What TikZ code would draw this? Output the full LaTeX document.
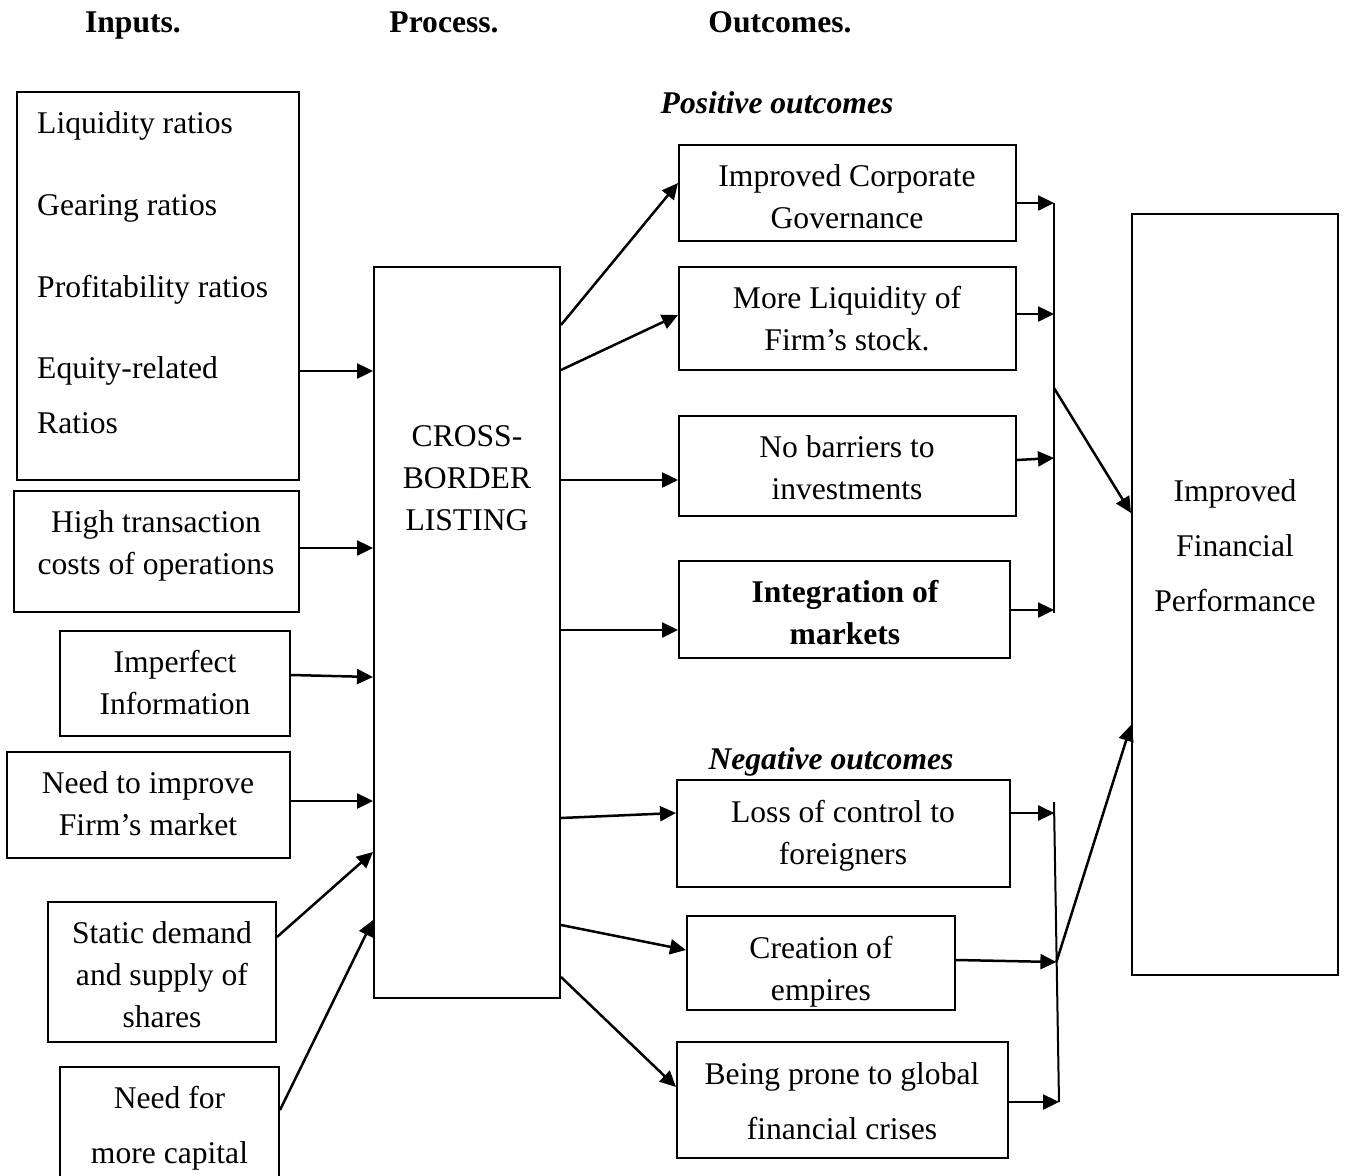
\documentclass[tikz,border=0pt]{standalone}
\usepackage{fontspec}
\setmainfont{Liberation Serif}
\usetikzlibrary{arrows.meta}
\begin{document}
\begin{tikzpicture}[x=1pt,y=-1pt,
  box/.style={draw,line width=2pt,inner sep=0pt,rectangle},
  txt/.style={inner sep=0pt,align=center,font=\fontsize{31.6}{42}\selectfont,
    execute at begin node=\strut,execute at end node=\strut},
  ltxt/.style={txt,anchor=west},
  hd/.style={txt,font=\fontsize{31.6}{42}\selectfont\bfseries},
  hdi/.style={txt,font=\fontsize{31.6}{42}\selectfont\bfseries\itshape},
  arr/.style={line width=2.5pt,-{Triangle[length=16pt,width=15pt]}},
  coll/.style={line width=2pt}]
\useasboundingbox (0,0) rectangle (1345,1176);
\fill[white] (0,0) rectangle (1345,1176);

% headers
\node[hd] (h1) at (133,24) {Inputs.};
\node[hd] (h2) at (444,24) {Process.};
\node[hd] (h3) at (780,24) {Outcomes.};
\node[hdi] (hp) at (777,105) {Positive outcomes};
\node[hdi] (hn) at (831,761) {Negative outcomes};

% input boxes
\node[box,minimum width=282pt,minimum height=388pt] (in1) at (158,286) {};
\node[ltxt] (l1) at (37,125) {Liquidity ratios};
\node[ltxt] (l2) at (37,207) {Gearing ratios};
\node[ltxt] (l3) at (37,289) {Profitability ratios};
\node[ltxt] (l4) at (37,370) {Equity-related};
\node[ltxt] (l5) at (37,425) {Ratios};

\node[box,minimum width=285pt,minimum height=121pt] (in2) at (156.5,551.5) {};
\node[txt] (t2) at (156,548.5) {High transaction\\costs of operations};

\node[box,minimum width=230pt,minimum height=105pt] (in3) at (175,683.5) {};
\node[txt] (t3) at (175,688.5) {Imperfect\\Information};

\node[box,minimum width=283pt,minimum height=106pt] (in4) at (148.5,805) {};
\node[txt] (t4) at (148,809.5) {Need to improve\\Firm’s market};

\node[box,minimum width=228pt,minimum height=140pt] (in5) at (162,972) {};
\node[txt] (t5) at (162,981) {Static demand\\and supply of\\shares};

\node[box,minimum width=219pt,minimum height=123pt] (in6) at (169.5,1128.5) {};
\node[txt] (t6) at (169.5,1131) {Need for\\[13pt]more capital};

% process
\node[box,minimum width=186pt,minimum height=731pt] (proc) at (467,632.5) {};
\node[txt] (tp) at (467,484.5) {CROSS-\\BORDER\\LISTING};

% positive outcomes
\node[box,minimum width=337pt,minimum height=96pt] (oc1) at (847.5,193) {};
\node[txt] (to1) at (847,202.5) {Improved Corporate\\Governance};
\node[box,minimum width=337pt,minimum height=103pt] (oc2) at (847.5,318.5) {};
\node[txt] (to2) at (847,324.5) {More Liquidity of\\Firm’s stock.};
\node[box,minimum width=337pt,minimum height=100pt] (oc3) at (847.5,466) {};
\node[txt] (to3) at (847,473.5) {No barriers to\\investments};
\node[box,minimum width=331pt,minimum height=97pt] (oc4) at (844.5,609.5) {};
\node[txt,font=\fontsize{31.6}{42}\selectfont\bfseries] (to4) at (845,618.5) {Integration of\\markets};

% negative outcomes
\node[box,minimum width=333pt,minimum height=107pt] (ng1) at (843.5,833.5) {};
\node[txt] (tn1) at (843,838.5) {Loss of control to\\foreigners};
\node[box,minimum width=268pt,minimum height=94pt] (ng2) at (821,963) {};
\node[txt] (tn2) at (821,974.5) {Creation of\\empires};
\node[box,minimum width=331pt,minimum height=116pt] (ng3) at (842.5,1100) {};
\node[txt] (tn3) at (842,1107) {Being prone to global\\[13pt]financial crises};

% result
\node[box,minimum width=206pt,minimum height=761pt] (rb) at (1235,594.5) {};
\node[txt] (tr) at (1235,551.5) {Improved\\[13pt]Financial\\[13pt]Performance};

% inputs -> process
\draw[arr] (in1.east |- 0,371) -- (proc.west |- 0,371);
\draw[arr] (in2.east |- 0,548) -- (proc.west |- 0,548);
\draw[arr] (in3.east |- 0,675) -- (proc.west |- 0,677);
\draw[arr] (in4.east |- 0,801) -- (proc.west |- 0,801);
\draw[arr] (in5.east |- 0,937) -- (proc.west |- 0,852);
\draw[arr] (in6.east |- 0,1110) -- (proc.west |- 0,920);

% process -> outcomes
\draw[arr] (proc.east |- 0,325) -- (oc1.west |- 0,183);
\draw[arr] (proc.east |- 0,370) -- (oc2.west |- 0,315);
\draw[arr] (proc.east |- 0,480) -- (oc3.west |- 0,480);
\draw[arr] (proc.east |- 0,630) -- (oc4.west |- 0,630);
\draw[arr] (proc.east |- 0,818) -- (ng1.west |- 0,813);
\draw[arr] (proc.east |- 0,925) -- (ng2.west |- 0,950);
\draw[arr] (proc.east |- 0,977) -- (ng3.west |- 0,1087);

% positive collector
\coordinate (pc1) at (1054,203);
\coordinate (pc2) at (1054,613);
\coordinate (pcm) at (1054,388);
\draw[coll] (pc1) -- (pc2);
\draw[arr] (oc1.east |- 0,203) -- (pc1);
\draw[arr] (oc2.east |- 0,314) -- (pc1 |- 0,314);
\draw[arr] (oc3.east |- 0,460) -- (pc1 |- 0,458);
\draw[arr] (oc4.east |- 0,610) -- (pc1 |- 0,610);
\draw[arr] (pcm) -- (rb.west |- 0,513);

% negative collector
\coordinate (nc1) at (1054,802);
\coordinate (nc2) at (1059,1102);
\coordinate (ncm) at (1056.4,962);
\coordinate (nca) at (1054.2,813);
\draw[coll] (nc1) -- (nc2);
\draw[arr] (ng1.east |- 0,813) -- (nca);
\draw[arr] (ng2.east |- 0,960) -- (ncm);
\draw[arr] (ng3.east |- 0,1102) -- (nc2);
\draw[arr] (ncm) -- (rb.west |- 0,725);
\end{tikzpicture}
\end{document}
